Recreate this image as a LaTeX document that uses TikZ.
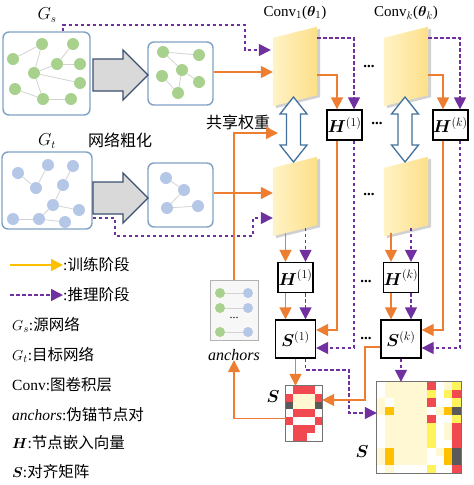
\documentclass[tikz,border=0pt]{standalone}
\usepackage{amsmath,bm}
\usepackage{fontspec}
\setmainfont{Liberation Serif}
\newfontfamily\cjk{Noto Sans CJK SC}
\usepackage{tikz}
\usetikzlibrary{arrows.meta,calc}

\definecolor{orng}{HTML}{ED7D31}
\definecolor{purp}{HTML}{7030A0}
\definecolor{gold}{HTML}{FFC000}
\definecolor{boxblue}{HTML}{7FA2C4}
\definecolor{gnc}{HTML}{A9D18E}
\definecolor{bnc}{HTML}{B4C7E7}
\definecolor{edgec}{HTML}{D3D3D3}
\definecolor{convA}{HTML}{FFF3C6}
\definecolor{convB}{HTML}{FCDF88}
\definecolor{arrblue}{HTML}{41719C}
\definecolor{arrgray}{HTML}{D9D9D9}
\definecolor{arrline}{HTML}{3B5070}
\definecolor{mW}{HTML}{FFFFFF}
\definecolor{mP}{HTML}{FFF8D2}
\definecolor{mY}{HTML}{FFF35C}
\definecolor{mO}{HTML}{FFC000}
\definecolor{mR}{HTML}{F04A50}
\definecolor{mD}{HTML}{595959}

\begin{document}
\begin{tikzpicture}[x=1pt,y=-1pt,
  font=\fontsize{15}{18}\selectfont,
  gbox/.style={draw=boxblue,line width=1.4pt,rounded corners=6pt,fill=white,inner sep=0pt},
  gn/.style={circle,fill=gnc,inner sep=0pt,minimum size=12pt},
  bn/.style={circle,fill=bnc,inner sep=0pt,minimum size=12pt},
  gl/.style={draw=edgec,line width=0.8pt},
  train/.style={draw=orng,line width=1.6pt,-{Triangle[width=12pt,length=12pt]}},
  infer/.style={draw=purp,line width=1.5pt,dash pattern=on 3.5pt off 2.5pt,-{Triangle[width=12pt,length=12pt]}},
  legtrain/.style={draw=gold,line width=1.5pt,-{Triangle[width=12pt,length=12pt]}},
  coarsen/.style={draw=arrline,line width=1.3pt,fill=arrgray},
  sharearrow/.style={draw=arrblue,line width=1.3pt,fill=white},
  conv/.style={minimum width=44pt,minimum height=79pt,inner sep=0pt},
  hbox/.style={draw,line width=1.3pt,fill=white,minimum width=35pt,minimum height=30pt,inner sep=0pt,font=\fontsize{17}{17}\selectfont},
  sbox/.style={hbox,minimum width=40pt,minimum height=38pt},
  matnode/.style={inner sep=0pt},
  leg/.style={anchor=west,inner sep=0pt,font=\fontsize{15.5}{18}\selectfont},
  dots/.style={font=\bfseries\fontsize{15}{15}\selectfont}]
\useasboundingbox (0,0) rectangle (474,485);

% source and target networks
\node[gbox,minimum width=87pt,minimum height=83pt] (gs) at (46.5,73.5) {};
\node[gbox,minimum width=65pt,minimum height=63pt] (gsr) at (180.5,73.5) {};
\node[gbox,minimum width=90pt,minimum height=77pt] (gt) at (47,190.5) {};
\node[gbox,minimum width=65pt,minimum height=64pt] (gtr) at (180.5,195) {};

\foreach \n/\x/\y in {a/42/44,b/73/44,c/13/59,d/57/64,e/80/64,f/34/73,g/80/83,h/15/89,i/43/99,j/71/99}
  \node[gn] (gs-\n) at (\x,\y) {};
\foreach \u/\v in {c/a,a/f,b/d,d/f,d/e,f/g,f/i,h/i,i/j}
  \draw[gl] (gs-\u) -- (gs-\v);
\foreach \n/\x/\y in {a/163/52,b/199/55,c/182/70,d/162/76,e/199/82,f/178/93}
  \node[gn] (gsr-\n) at (\x,\y) {};
\foreach \u/\v in {a/b,a/c,c/e,c/f,d/f}
  \draw[gl] (gsr-\u) -- (gsr-\v);

\foreach \n/\x/\y in {a/18/173,b/48/165,c/73/166,d/36/188,e/63/185,f/53/205,g/79/210,h/13/219,i/39/219,j/65/222}
  \node[bn] (gt-\n) at (\x,\y) {};
\foreach \u/\v in {a/d,b/d,c/e,e/f,f/g,f/i,h/i,i/j}
  \draw[gl] (gt-\u) -- (gt-\v);
\foreach \n/\x/\y in {a/166/178,b/184/190,c/167/208,d/198/206}
  \node[bn] (gtr-\n) at (\x,\y) {};
\foreach \u/\v in {a/b,b/c,c/d}
  \draw[gl] (gtr-\u) -- (gtr-\v);

% coarsening arrows
\foreach \y in {75,198}
  \draw[coarsen] (93,\y-16) -- (123,\y-16) -- (123,\y-25) -- (148,\y) -- (123,\y+25) -- (123,\y+16) -- (93,\y+16) -- cycle;

\node (gslab) at (47,15) {\fontsize{16}{16}\selectfont$G_s$};
\node (gtlab) at (47,141) {\fontsize{16}{16}\selectfont$G_t$};
\node (coarse) at (120,140) {\fontsize{16}{18}\selectfont\cjk 网络粗化};
\node (share) at (238,122) {\fontsize{16}{18}\selectfont\cjk 共享权重};

% GCN layers
\node[conv] (c1t) at (295,66.5) {};
\node[conv] (ckt) at (406,66.5) {};
\node[conv] (c1b) at (295,196.5) {};
\node[conv] (ckb) at (406,196.5) {};
\foreach \c in {c1t,ckt,c1b,ckb} {
  \fill[black!18] ($(\c.north west)+(3,13)$) -- ($(\c.north east)+(3,2)$) -- ($(\c.south east)+(3,-9)$) -- ($(\c.south west)+(3,2)$) -- cycle;
  \shade[left color=convA,right color=convB] ($(\c.north west)+(0,11)$) -- (\c.north east) -- ($(\c.south east)+(0,-11)$) -- (\c.south west) -- cycle;
}
\node (cv1) at (295,13) {Conv$_1$($\bm{\theta}_1$)};
\node (cvk) at (406,13) {Conv$_k$($\bm{\theta}_k$)};

% shared weights
\foreach \x/\n in {293.5/sw1,405/swk} {
  \coordinate (\n) at (\x,129.5);
  \draw[sharearrow] ($(\n)+(0,-32.5)$) -- ++(13.5,17) -- ++(-6.5,0) -- ++(0,31) -- ++(6.5,0) -- ++(-13.5,17)
    -- ++(-13.5,-17) -- ++(6.5,0) -- ++(0,-31) -- ++(-6.5,0) -- cycle;
}

% embeddings and alignment
\node[hbox] (h1t) at (344.5,125) {$\bm{H}^{(1)}$};
\node[hbox] (hkt) at (450.5,125) {$\bm{H}^{(k)}$};
\node[hbox] (h1b) at (295.5,277.5) {$\bm{H}^{(1)}$};
\node[hbox] (hkb) at (401,277.5) {$\bm{H}^{(k)}$};
\node[sbox] (s1) at (295.5,339) {$\bm{S}^{(1)}$};
\node[sbox] (sk) at (401,339) {$\bm{S}^{(k)}$};

\node[dots] (d1) at (369,66) {...};
\node[dots] (d2) at (377,123) {...};
\node[dots] (d3) at (369,194) {...};
\node[dots] (d4) at (366,281) {...};
\node[dots] (d5) at (366,338) {...};

% matrices
\node[matnode,minimum width=36pt,minimum height=55pt] (sm) at (304,413.5) {};
\node[matnode,minimum width=84pt,minimum height=91pt] (bm) at (419,427.5) {};
\foreach \row [count=\r from 0] in {{W,R,R,R,W},{R,P,P,P,R},{D,P,P,P,D},{W,R,R,R,W},{R,W,W,W,R},{W,R,R,R,W},{W,R,R,W,W}}
  \foreach \cc [count=\k from 0] in \row
    \fill[fill=m\cc] ($(sm.north west)+(\k*7.2,\r*7.857)$) rectangle ++(7.2,7.857);
\foreach \row [count=\r from 0] in {
  {W,P,P,P,P,P,R,W,P,Y},
  {W,P,P,P,P,P,Y,W,Y,R},
  {P,W,P,P,P,P,R,W,W,Y},
  {P,O,P,P,P,P,W,P,O,D},
  {W,P,P,P,P,P,R,W,W,Y},
  {W,P,P,P,P,P,Y,W,P,R},
  {W,P,P,P,P,P,Y,W,P,R},
  {W,P,P,P,P,P,Y,W,W,R},
  {P,O,P,P,P,P,W,P,O,D},
  {P,O,P,P,P,P,W,W,O,D},
  {W,P,W,W,W,W,Y,W,W,R}}
  \foreach \cc [count=\k from 0] in \row
    \fill[fill=m\cc] ($(bm.north west)+(\k*8.4,\r*8.2727)$) rectangle ++(8.4,8.2727);
\draw[black!55,line width=0.8pt] (sm.north west) rectangle (sm.south east);
\draw[black!55,line width=0.8pt] (bm.north west) rectangle (bm.south east);
\node (smlab) at (273,397) {\fontsize{16}{16}\selectfont$\bm{S}$};
\node (bmlab) at (362,452) {\fontsize{16}{16}\selectfont$\bm{S}$};

% pseudo anchors
\node[draw=black!30,line width=1pt,fill=black!3,minimum width=48pt,minimum height=60pt] (anc) at (234,310) {};
\foreach \n/\y in {1/293,2/308,3/332} {
  \node[gn,minimum size=10pt] (ag\n) at (220,\y) {};
  \node[bn,minimum size=10pt] (ab\n) at (248,\y) {};
  \draw[gl] (ag\n) -- (ab\n);
}
\node[font=\fontsize{12}{12}\selectfont] (adots) at (234,318) {...};
\node[font=\itshape\fontsize{16}{16}\selectfont] (anclab) at (234,355) {anchors};

% connectors
\coordinate (p1) at (245,25);
\draw[infer] ($(gs.north)+(16.5,0)$) |- (p1) |- ($(c1t.west)+(-2,-16.5)$);
\draw[train] ($(gsr.east)+(0,-1.5)$) -- ($(gsr.east -| c1t.west)+(0,-1.5)$);
\coordinate (p2) at (115,236);
\coordinate (p3) at (253,218);
\draw[infer] ($(gt.east)+(0,27.5)$) -| (p2) -| (p3) -- (p3 -| c1b.west);
\draw[train] ($(gtr.east)+(0,-2)$) -- ($(gtr.east -| c1b.west)+(0,-2)$);
\coordinate (swin) at (278,133);
\draw[train] (anc.north) |- (swin);

\draw[infer] ($(c1t.north east)+(0,11)$) -| ($(h1t.north)+(9.5,0)$);
\draw[train] ($(c1t.north east)+(0,48)$) -| ($(h1t.north)+(-7.5,0)$);
\draw[infer] ($(ckt.north east)+(0,11)$) -| ($(hkt.north)+(9.5,0)$);
\draw[train] ($(ckt.north east)+(0,48)$) -| ($(hkt.north)+(-7.5,0)$);

\draw[train] ($(h1b.north)+(-10,-29)$) -- ($(h1b.north)+(-10,0)$);
\draw[infer] ($(h1b.north)+(10,-34)$) -- ($(h1b.north)+(10,0)$);
\draw[train] ($(hkb.north)+(-10,-29)$) -- ($(hkb.north)+(-10,0)$);
\draw[infer] ($(hkb.north)+(10,-34)$) -- ($(hkb.north)+(10,0)$);

\draw[train] ($(h1b.south)+(-10,0)$) -- ($(s1.north)+(-10,0)$);
\draw[infer] ($(h1b.south)+(10,0)$) -- ($(s1.north)+(10,0)$);
\draw[train] ($(hkb.south)+(-10,0)$) -- ($(sk.north)+(-10,0)$);
\draw[infer] ($(hkb.south)+(10,0)$) -- ($(sk.north)+(10,0)$);

\draw[train] ($(h1t.south)+(-7.5,0)$) |- ($(s1.east)+(0,-9)$);
\draw[infer] ($(h1t.south)+(9.5,0)$) |- ($(s1.east)+(0,9)$);
\draw[train] ($(hkt.south)+(-7.5,0)$) |- ($(sk.east)+(0,-9)$);
\draw[infer] ($(hkt.south)+(9.5,0)$) |- ($(sk.east)+(0,9)$);

\draw[train] (s1.south) -- (s1.south |- sm.north);
\coordinate (q) at (349,370);
\draw[infer] ($(s1.south)+(10,0)$) |- (q) |- ($(bm.west)+(0,-14.5)$);
\coordinate (r) at (365,400);
\draw[train] ($(sk.west)+(0,8)$) -| (r) -- (r -| sm.east);
\draw[infer] (sk.south) -- (sk.south |- bm.north);
\draw[train] ($(sm.west)+(0,5)$) -| ($(anclab.south)+(0,-4)$);

% legend
\coordinate (lg1) at (10,265);
\node[leg] (l1) at (63,265) {:{\cjk 训练阶段}};
\draw[legtrain] (lg1) -- (l1.west);
\coordinate (lg2) at (10,295);
\node[leg] (l2) at (63,295) {:{\cjk 推理阶段}};
\draw[infer] (lg2) -- (l2.west);
\node[leg] (l3) at (12,325) {$G_s$:{\cjk 源网络}};
\node[leg] (l4) at (12,355) {$G_t$:{\cjk 目标网络}};
\node[leg] (l5) at (12,385) {Conv:{\cjk 图卷积层}};
\node[leg] (l6) at (12,415) {\textit{anchors}:{\cjk 伪锚节点对}};
\node[leg] (l7) at (12,443) {$\bm{H}$:{\cjk 节点嵌入向量}};
\node[leg] (l8) at (12,472) {$\bm{S}$:{\cjk 对齐矩阵}};
\end{tikzpicture}
\end{document}
